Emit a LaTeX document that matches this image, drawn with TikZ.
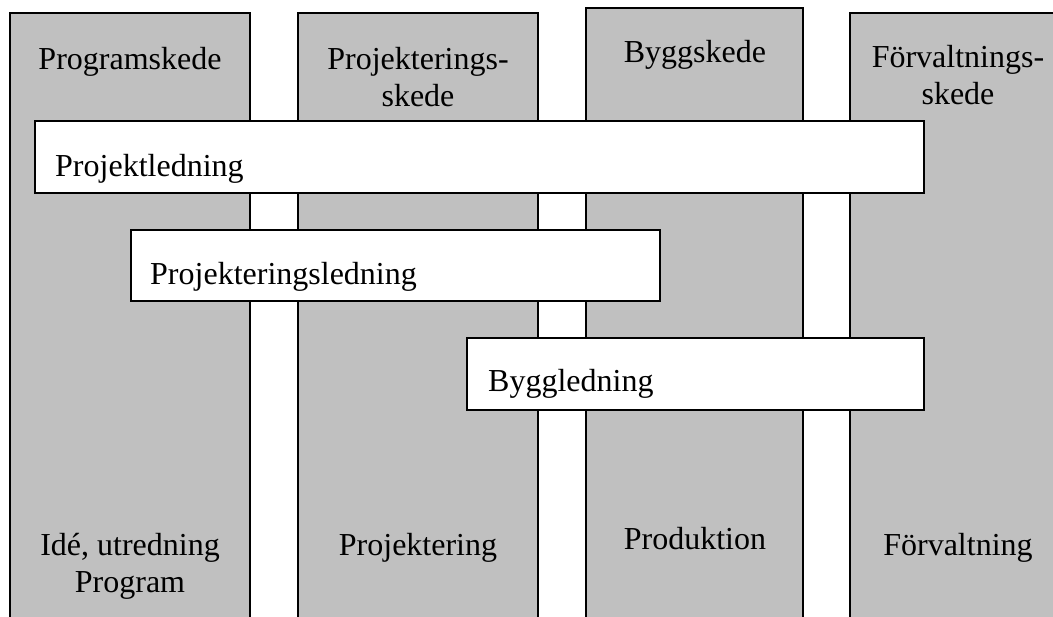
\documentclass[tikz,border=0pt]{standalone}
\usepackage{fontspec}
\setmainfont{Liberation Serif}
\definecolor{phasegray}{HTML}{C0C0C0}
\begin{document}
\begin{tikzpicture}[x=1pt,y=-1pt,
  phase/.style={fill=phasegray,draw=black,line width=1.6pt},
  bar/.style={fill=white,draw=black,line width=1.6pt,inner sep=0pt,
    anchor=north west},
  lbl/.style={font=\fontsize{32}{37}\selectfont,inner sep=0pt,anchor=base,
    align=center},
  barlbl/.style={font=\fontsize{32}{37}\selectfont,inner sep=0pt,
    anchor=base west}]
\useasboundingbox (0,0) rectangle (1053,617);
\begin{scope}
  \clip (0,0) rectangle (1053,617);
  % phase columns, open at the bottom
  \path[phase] (10,640) -- (10,13) -- (250,13) -- (250,640);
  \path[phase] (298,640) -- (298,13) -- (538,13) -- (538,640);
  \path[phase] (586,640) -- (586,8) -- (803,8) -- (803,640);
  \path[phase] (850,640) -- (850,13) -- (1067,13) -- (1067,640);
\end{scope}

% phase headings (base anchor sits on the last line)
\node[lbl] (h1) at (130,70) {Programskede};
\node[lbl] (h2) at (418,107) {Projekterings-\\skede};
\node[lbl] (h3) at (695,63) {Byggskede};
\node[lbl] (h4) at (958,105) {Förvaltnings-\\skede};

% management bars
\node[bar,minimum width=889pt,minimum height=72pt] (pl) at (34,120) {};
\node[barlbl] (plt) at (55,177) {Projektledning};
\node[bar,minimum width=529pt,minimum height=71pt] (prl) at (130,229) {};
\node[barlbl] (prlt) at (150,285) {Projekteringsledning};
\node[bar,minimum width=457pt,minimum height=72pt] (bl) at (466,337) {};
\node[barlbl] (blt) at (488,392) {Byggledning};

% phase activities
\node[lbl] (a1) at (130,592) {Idé, utredning\\Program};
\node[lbl] (a2) at (418,555) {Projektering};
\node[lbl] (a3) at (695,550) {Produktion};
\node[lbl] (a4) at (958,555) {Förvaltning};
\end{tikzpicture}
\end{document}
